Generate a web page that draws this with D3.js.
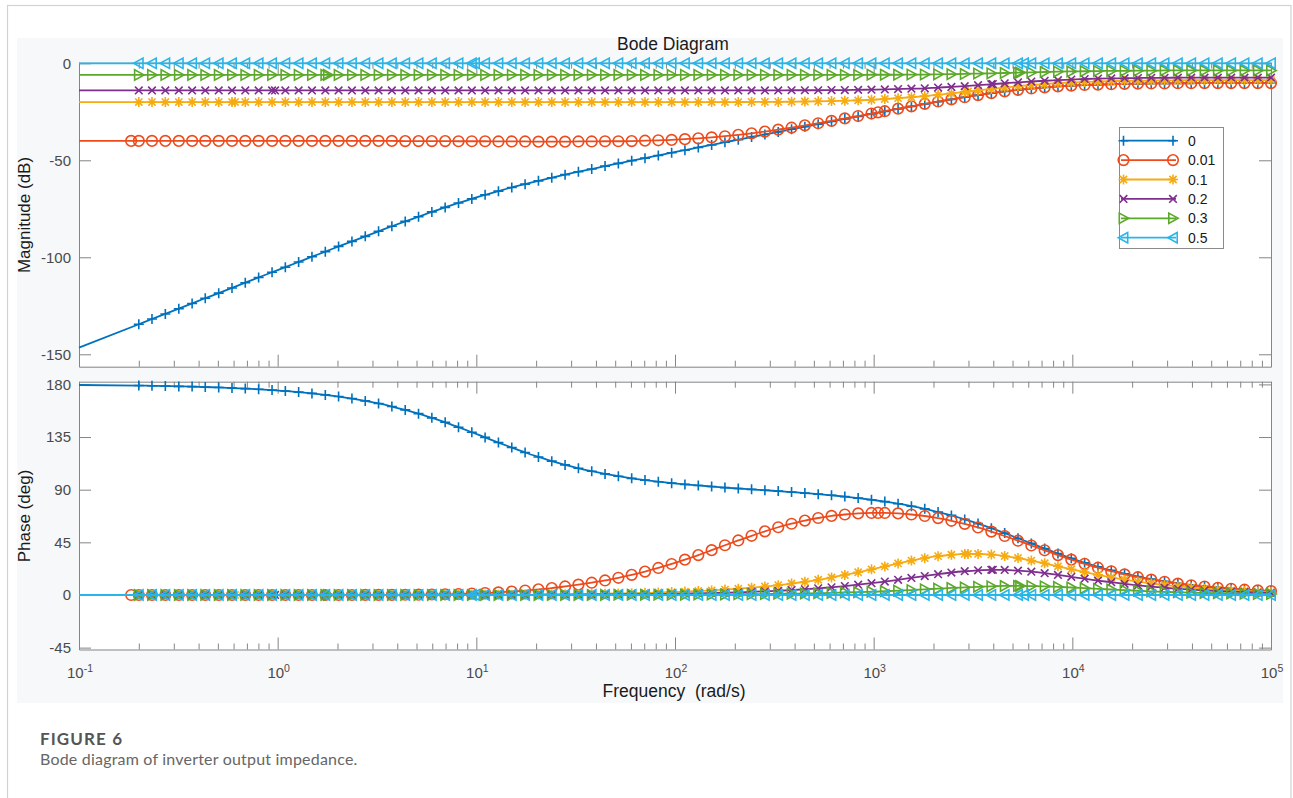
<!DOCTYPE html>
<html>
<head>
<meta charset="utf-8">
<script src="https://cdn.jsdelivr.net/npm/d3@7"></script>
<style>
  body { margin: 0; background: #ffffff; }
  svg { display: block; font-family: "Liberation Sans", Arial, Helvetica, sans-serif; }
</style>
</head>
<body>
<svg id="chart" width="1293" height="798"></svg>
<script>
// Frequency samples (rad/s); the first entry starts the curves, the rest carry markers
const omega = [0.1,
  0.2, 0.233, 0.272, 0.318, 0.371, 0.432, 0.505, 0.589, 0.687, 0.802,
  0.937, 1.093, 1.275, 1.488, 1.737, 2.026, 2.365, 2.760, 3.220, 3.757,
  4.386, 5.117, 5.972, 6.968, 8.133, 9.491, 11.07, 12.92, 15.08, 17.60,
  20.54, 23.97, 27.97, 32.64, 38.09, 44.45, 51.87, 60.53, 70.63, 82.42,
  96.18, 112.2, 131.0, 152.9, 178.4, 208.2, 242.9, 283.5, 330.8, 386.1,
  450.5, 525.7, 613.5, 715.9, 835.4, 975.0, 1138, 1327, 1549, 1808,
  2110, 2462, 2873, 3353, 3912, 4566, 5328, 6218, 7256, 8467,
  9881, 11530, 13460, 15700, 18320, 21380, 24960, 29120, 33980, 39660,
  46280, 54000, 63010, 73540, 85810, 100000];

// Magnitude (dB)
const mag0 = [-146.6,
  -134.5, -131.8, -129.2, -126.5, -123.8, -121.1, -118.5, -115.8, -113.1, -110.4,
  -107.7, -105.1, -102.4, -99.7, -97.1, -94.4, -91.8, -89.2, -86.6, -84.0,
  -81.5, -79.1, -76.6, -74.3, -72.0, -69.9, -67.8, -65.9, -64.0, -62.3,
  -60.6, -59.0, -57.4, -55.9, -54.5, -53.0, -51.6, -50.2, -48.9, -47.5,
  -46.1, -44.8, -43.4, -42.1, -40.7, -39.4, -38.0, -36.7, -35.4, -34.0,
  -32.7, -31.4, -30.0, -28.7, -27.4, -26.1, -24.8, -23.5, -22.2, -21.0,
  -19.8, -18.6, -17.5, -16.4, -15.4, -14.5, -13.7, -13.0, -12.4, -11.9,
  -11.5, -11.2, -11.0, -10.8, -10.6, -10.5, -10.4, -10.4, -10.3, -10.3,
  -10.2, -10.2, -10.2, -10.2, -10.2, -10.2];
const mag001 = [-40.0,
  -40.0, -40.0, -40.0, -40.0, -40.0, -40.0, -40.0, -40.0, -40.0, -40.0,
  -40.0, -40.0, -40.0, -40.0, -40.0, -40.0, -40.0, -40.0, -40.0, -40.0,
  -40.1, -40.1, -40.1, -40.1, -40.2, -40.2, -40.2, -40.3, -40.3, -40.3,
  -40.4, -40.4, -40.4, -40.3, -40.3, -40.2, -40.2, -40.1, -39.9, -39.7,
  -39.5, -39.1, -38.7, -38.2, -37.6, -36.9, -36.1, -35.2, -34.2, -33.2,
  -32.0, -30.9, -29.7, -28.4, -27.2, -25.9, -24.7, -23.4, -22.2, -20.9,
  -19.7, -18.6, -17.5, -16.4, -15.4, -14.5, -13.7, -13.0, -12.4, -11.9,
  -11.5, -11.2, -11.0, -10.8, -10.6, -10.5, -10.4, -10.4, -10.3, -10.3,
  -10.2, -10.2, -10.2, -10.2, -10.2, -10.2];
const mag01 = [-20.0,
  -20.0, -20.0, -20.0, -20.0, -20.0, -20.0, -20.0, -20.0, -20.0, -20.0,
  -20.0, -20.0, -20.0, -20.0, -20.0, -20.0, -20.0, -20.0, -20.0, -20.0,
  -20.0, -20.0, -20.0, -20.0, -20.0, -20.0, -20.0, -20.0, -20.0, -20.0,
  -20.0, -20.0, -20.0, -20.0, -20.0, -20.0, -20.0, -20.0, -20.0, -20.0,
  -20.0, -20.0, -20.0, -20.0, -20.0, -20.0, -19.9, -19.9, -19.9, -19.8,
  -19.7, -19.6, -19.5, -19.3, -19.1, -18.8, -18.4, -18.0, -17.5, -16.9,
  -16.2, -15.5, -14.7, -14.0, -13.2, -12.5, -11.8, -11.2, -10.7, -10.2,
  -9.9, -9.6, -9.4, -9.2, -9.0, -8.9, -8.9, -8.8, -8.8, -8.7,
  -8.7, -8.7, -8.7, -8.7, -8.7, -8.7];
const mag02 = [-14.0,
  -14.0, -14.0, -14.0, -14.0, -14.0, -14.0, -14.0, -14.0, -14.0, -14.0,
  -14.0, -14.0, -14.0, -14.0, -14.0, -14.0, -14.0, -14.0, -14.0, -14.0,
  -14.0, -14.0, -14.0, -14.0, -14.0, -14.0, -14.0, -14.0, -14.0, -14.0,
  -14.0, -14.0, -14.0, -14.0, -14.0, -14.0, -14.0, -14.0, -14.0, -14.0,
  -14.0, -14.0, -14.0, -14.0, -14.0, -14.0, -14.0, -14.0, -14.0, -13.9,
  -13.9, -13.9, -13.8, -13.8, -13.7, -13.6, -13.5, -13.3, -13.1, -12.9,
  -12.5, -12.2, -11.8, -11.3, -10.8, -10.3, -9.8, -9.4, -9.0, -8.7,
  -8.4, -8.1, -7.9, -7.8, -7.7, -7.6, -7.5, -7.5, -7.4, -7.4,
  -7.4, -7.4, -7.4, -7.4, -7.4, -7.4];
const mag03 = [-6.0,
  -6.0, -6.0, -6.0, -6.0, -6.0, -6.0, -6.0, -6.0, -6.0, -6.0,
  -6.0, -6.0, -6.0, -6.0, -6.0, -6.0, -6.0, -6.0, -6.0, -6.0,
  -6.0, -6.0, -6.0, -6.0, -6.0, -6.0, -6.0, -6.0, -6.0, -6.0,
  -6.0, -6.0, -6.0, -6.0, -6.0, -6.0, -6.0, -6.0, -6.0, -6.0,
  -6.0, -6.0, -6.0, -6.0, -6.0, -6.0, -6.0, -6.0, -6.0, -6.0,
  -6.0, -6.0, -6.0, -6.0, -6.0, -5.9, -5.9, -5.9, -5.8, -5.8,
  -5.7, -5.6, -5.5, -5.3, -5.2, -5.0, -4.8, -4.7, -4.5, -4.3,
  -4.2, -4.1, -4.0, -3.9, -3.9, -3.8, -3.8, -3.7, -3.7, -3.7,
  -3.7, -3.7, -3.7, -3.7, -3.7, -3.7];
const mag05 = [0,
  0, 0, 0, 0, 0, 0, 0, 0, 0, 0,
  0, 0, 0, 0, 0, 0, 0, 0, 0, 0,
  0, 0, 0, 0, 0, 0, 0, 0, 0, 0,
  0, 0, 0, 0, 0, 0, 0, 0, 0, 0,
  0, 0, 0, 0, 0, 0, 0, 0, 0, 0,
  0, 0, 0, 0, 0, 0, 0, 0, 0, 0,
  0, 0, 0, 0, 0, 0, 0, 0, 0, 0,
  0, 0, 0, 0, 0, 0, 0, 0, 0, 0,
  0, 0, 0, 0, 0, 0];

// Phase (deg)
const phase0 = [179.5,
  179.0, 178.8, 178.6, 178.3, 178.1, 177.7, 177.4, 176.9, 176.4, 175.8,
  175.1, 174.3, 173.4, 172.3, 171.0, 169.6, 167.9, 165.9, 163.7, 161.1,
  158.2, 155.0, 151.4, 147.6, 143.4, 139.1, 134.7, 130.3, 126.0, 121.8,
  118.0, 114.4, 111.2, 108.3, 105.8, 103.5, 101.5, 99.7, 98.2, 96.8,
  95.6, 94.5, 93.6, 92.7, 91.8, 91.0, 90.3, 89.5, 88.8, 88.0,
  87.1, 86.2, 85.2, 84.1, 82.8, 81.4, 79.8, 78.0, 75.9, 73.6,
  70.9, 68.0, 64.6, 61.0, 57.1, 52.9, 48.5, 44.1, 39.7, 35.4,
  31.3, 27.5, 24.1, 21.0, 18.2, 15.7, 13.6, 11.7, 10.0, 8.6,
  7.4, 6.4, 5.5, 4.7, 4.0, 3.4];
const phase001 = [0,
  0, 0, 0, 0, 0, 0, 0, 0, 0, 0,
  0, 0, 0, 0, 0, 0, 0, 0.1, 0.1, 0.1,
  0.2, 0.3, 0.4, 0.6, 0.8, 1.2, 1.6, 2.2, 2.9, 3.8,
  4.8, 5.9, 7.3, 8.8, 10.5, 12.4, 14.7, 17.2, 20.0, 23.1,
  26.5, 30.2, 34.1, 38.3, 42.5, 46.6, 50.6, 54.4, 57.9, 60.9,
  63.6, 65.8, 67.6, 68.8, 69.7, 70.1, 70.1, 69.7, 68.8, 67.5,
  65.7, 63.4, 60.8, 57.7, 54.2, 50.4, 46.4, 42.3, 38.2, 34.1,
  30.2, 26.6, 23.3, 20.3, 17.6, 15.2, 13.1, 11.3, 9.7, 8.3,
  7.2, 6.1, 5.3, 4.5, 3.9, 3.3];
const phase01 = [0,
  0, 0, 0, 0, 0, 0, 0, 0, 0, 0,
  0, 0, 0, 0, 0, 0, 0, 0, 0, 0,
  0, 0, 0.1, 0.1, 0.1, 0.1, 0.1, 0.2, 0.3, 0.3,
  0.4, 0.5, 0.6, 0.8, 0.9, 1.1, 1.3, 1.5, 1.8, 2.1,
  2.5, 2.9, 3.4, 3.9, 4.6, 5.4, 6.2, 7.3, 8.4, 9.8,
  11.3, 13.0, 15.0, 17.1, 19.4, 21.9, 24.4, 27.0, 29.4, 31.5,
  33.2, 34.4, 35.1, 35.1, 34.5, 33.3, 31.6, 29.4, 27.1, 24.5,
  22.0, 19.5, 17.2, 15.1, 13.1, 11.4, 9.8, 8.5, 7.3, 6.3,
  5.4, 4.6, 4.0, 3.4, 2.9, 2.5];
const phase02 = [0,
  0, 0, 0, 0, 0, 0, 0, 0, 0, 0,
  0, 0, 0, 0, 0, 0, 0, 0, 0, 0,
  0, 0, 0, 0, 0, 0, 0.1, 0.1, 0.1, 0.1,
  0.2, 0.2, 0.3, 0.3, 0.4, 0.5, 0.6, 0.7, 0.8, 0.9,
  1.1, 1.2, 1.4, 1.7, 2.0, 2.3, 2.7, 3.1, 3.6, 4.2,
  4.9, 5.7, 6.6, 7.6, 8.8, 10.1, 11.5, 13.0, 14.6, 16.2,
  17.8, 19.2, 20.3, 21.1, 21.5, 21.4, 20.8, 19.9, 18.6, 17.1,
  15.5, 13.9, 12.3, 10.9, 9.5, 8.3, 7.2, 6.2, 5.3, 4.6,
  3.9, 3.4, 2.9, 2.5, 2.1, 1.8];
const phase03 = [0,
  0, 0, 0, 0, 0, 0, 0, 0, 0, 0,
  0, 0, 0, 0, 0, 0, 0, 0, 0, 0,
  0, 0, 0, 0, 0, 0, 0, 0, 0, 0,
  0, 0, 0, 0, 0, 0.1, 0.2, 0.2, 0.2, 0.2,
  0.3, 0.3, 0.4, 0.5, 0.5, 0.6, 0.7, 0.8, 1.0, 1.1,
  1.3, 1.5, 1.8, 2.1, 2.4, 2.8, 3.2, 3.7, 4.2, 4.8,
  5.4, 6.0, 6.5, 7.0, 7.4, 7.7, 7.7, 7.6, 7.4, 6.9,
  6.4, 5.8, 5.2, 4.7, 4.1, 3.6, 3.1, 2.7, 2.3, 2.0,
  1.7, 1.5, 1.3, 1.1, 0.9, 0.8];
const phase05 = [0,
  0, 0, 0, 0, 0, 0, 0, 0, 0, 0,
  0, 0, 0, 0, 0, 0, 0, 0, 0, 0,
  0, 0, 0, 0, 0, 0, 0, 0, 0, 0,
  0, 0, 0, 0, 0, 0, 0, 0, 0, 0,
  0, 0, 0, 0, 0, 0, 0, 0, 0, 0,
  0, 0, 0, 0, 0, 0, 0, 0, 0, 0,
  0, 0, 0, 0, 0, 0, 0, 0, 0, 0,
  0, 0, 0, 0, 0, 0, 0, 0, 0, 0,
  0, 0, 0, 0, 0, 0];

// Additional solver points [rad/s, dB, deg] that carry their own markers
const extra0 = [];
const extra001 = [[0.183, -40.0, 0.0], [1052, -25.3, 70.1]];
const extra01 = [[0.61, -20.0, 0.0], [2985, -14.5, 35.1]];
const extra02 = [[0.97, -14.0, 0.0], [3980, -10.7, 21.5]];
const extra03 = [[1.79, -6.0, 0.0], [5460, -4.8, 7.7]];
const extra05 = [[9.85, 0, 0], [5710, 0, 0]];

const seriesLabels = ["0", "0.01", "0.1", "0.2", "0.3", "0.5"];
const seriesColors = ["#0072bd", "#ee4b1d", "#f6ab12", "#7e2f8e", "#5ca82a", "#27b5ea"];
const seriesMarkers = ["plus", "circle", "star", "cross", "triRight", "triLeft"];

const magTicks = [-150, -100, -50, 0];
const phaseTicks = [-45, 0, 45, 90, 135, 180];
const decadeExponents = [-1, 0, 1, 2, 3, 4, 5];

const series = seriesLabels.map((label, i) => ({
  label,
  color: seriesColors[i],
  marker: seriesMarkers[i],
  mag: [mag0, mag001, mag01, mag02, mag03, mag05][i],
  phase: [phase0, phase001, phase01, phase02, phase03, phase05][i],
  extra: [extra0, extra001, extra01, extra02, extra03, extra05][i]
}));

const svg = d3.select("#chart");
const axisColor = "#858585";
const tickTextColor = "#4a4a4a";
const tickFont = "'Liberation Sans', Arial, sans-serif";

// page frame and figure background
svg.append("rect").attr("x", 7.5).attr("y", 5.5).attr("width", 1283.5).attr("height", 800)
  .attr("fill", "#ffffff").attr("stroke", "#d2d2d2").attr("stroke-width", 1.2);
svg.append("rect").attr("x", 17).attr("y", 38).attr("width", 1266).attr("height", 665)
  .attr("fill", "#f7f8fa");

const x = d3.scaleLog().domain([0.1, 1e5]).range([79, 1271]);
const yMag = d3.scaleLinear().domain([-156.4, 0.3]).range([366.7, 62.7]);
const yPh = d3.scaleLinear().domain([-46.6, 182.3]).range([649.5, 381.7]);

const majorX = decadeExponents.map(e => Math.pow(10, e));
const minorX = [];
decadeExponents.slice(0, -1).forEach(e => {
  for (let m = 2; m <= 9; m++) minorX.push(m * Math.pow(10, e));
});

function styleAxis(g) {
  g.attr("font-family", tickFont).attr("font-size", 15);
  g.selectAll("path, line").attr("stroke", axisColor).attr("stroke-width", 1);
  g.selectAll("text").attr("fill", tickTextColor);
}

function drawPanel(y, yTicks, withXLabels) {
  const [y0, y1] = y.range(); // bottom, top
  const g = svg.append("g");
  g.append("rect").attr("x", 79).attr("y", y1).attr("width", 1271 - 79).attr("height", y0 - y1)
    .attr("fill", "#ffffff");

  // x: bottom and top, major and minor ticks pointing inward
  [[d3.axisBottom, y0], [d3.axisTop, y1]].forEach(([mk, pos]) => {
    g.append("g").attr("transform", `translate(0,${pos})`)
      .call(mk(x).tickValues(majorX).tickSize(-12).tickSizeOuter(0).tickFormat(""))
      .call(styleAxis);
    g.append("g").attr("transform", `translate(0,${pos})`)
      .call(mk(x).tickValues(minorX).tickSize(-6).tickSizeOuter(0).tickFormat(""))
      .call(s => s.select(".domain").remove())
      .call(styleAxis);
  });
  // y: left with labels, right mirrored
  g.append("g").attr("transform", "translate(79,0)")
    .call(d3.axisLeft(y).tickValues(yTicks).tickSize(-12).tickSizeOuter(0).tickPadding(8)
      .tickFormat(d => String(d)))
    .call(styleAxis);
  g.append("g").attr("transform", "translate(1271,0)")
    .call(d3.axisRight(y).tickValues(yTicks).tickSize(-12).tickSizeOuter(0).tickFormat(""))
    .call(styleAxis);

  if (withXLabels) {
    const lab = g.append("g").attr("font-family", tickFont);
    decadeExponents.forEach(e => {
      const t = lab.append("text").attr("x", x(Math.pow(10, e)) + 1).attr("y", 678)
        .attr("text-anchor", "middle").attr("fill", tickTextColor).attr("font-size", 15);
      t.append("tspan").text("10");
      t.append("tspan").attr("dy", -6.5).attr("font-size", 10.5).text(String(e));
    });
  }
  return g;
}

function markerPath(type) {
  switch (type) {
    case "plus": return "M-5,0H5M0,-5V5";
    case "star": return "M-5,0H5M0,-5V5M-3.6,-3.6L3.6,3.6M-3.6,3.6L3.6,-3.6";
    case "cross": return "M-3.8,-3.8L3.8,3.8M-3.8,3.8L3.8,-3.8";
    case "triRight": return "M-4.2,-5.2L5.2,0L-4.2,5.2Z";
    case "triLeft": return "M4.2,-5.2L-5.2,0L4.2,5.2Z";
    default: return null;
  }
}

function drawMarker(g, type, color, cx, cy) {
  if (type === "circle") {
    g.append("circle").attr("cx", cx).attr("cy", cy).attr("r", 5.3)
      .attr("fill", "none").attr("stroke", color).attr("stroke-width", 1.6);
  } else {
    g.append("path").attr("d", markerPath(type)).attr("transform", `translate(${cx},${cy})`)
      .attr("fill", "none").attr("stroke", color).attr("stroke-width", 1.6)
      .attr("stroke-linejoin", "miter");
  }
}

function drawCurves(y, key, extraIndex) {
  const g = svg.append("g");
  series.forEach(s => {
    const pts = omega.map((w, i) => ({ w, v: s[key][i] }));
    const line = d3.line().x(d => x(d.w)).y(d => y(d.v)).curve(d3.curveMonotoneX);
    const sg = g.append("g");
    sg.append("path").datum(pts).attr("d", line)
      .attr("fill", "none").attr("stroke", s.color).attr("stroke-width", 1.8);
    pts.slice(1).forEach(d => drawMarker(sg, s.marker, s.color, x(d.w), y(d.v)));
    s.extra.forEach(d => drawMarker(sg, s.marker, s.color, x(d[0]), y(d[extraIndex])));
  });
}

drawPanel(yMag, magTicks, false);
drawCurves(yMag, "mag", 1);
drawPanel(yPh, phaseTicks, true);
drawCurves(yPh, "phase", 2);

// titles
svg.append("text").attr("x", 673).attr("y", 50).attr("text-anchor", "middle")
  .attr("font-size", 17.5).attr("fill", "#1a1a1a").text("Bode Diagram");
svg.append("text").attr("transform", "translate(29.5,215) rotate(-90)").attr("text-anchor", "middle")
  .attr("font-size", 17).attr("fill", "#1a1a1a").text("Magnitude (dB)");
svg.append("text").attr("transform", "translate(29.5,516) rotate(-90)").attr("text-anchor", "middle")
  .attr("font-size", 17).attr("fill", "#1a1a1a").text("Phase (deg)");
svg.append("text").attr("x", 674).attr("y", 697).attr("text-anchor", "middle")
  .attr("font-size", 17.5).attr("fill", "#1a1a1a").style("white-space", "pre")
  .text("Frequency  (rad/s)");

// legend
const legend = svg.append("g");
legend.append("rect").attr("x", 1119.5).attr("y", 127.5).attr("width", 104).attr("height", 121)
  .attr("fill", "#ffffff").attr("stroke", "#8a8a8a").attr("stroke-width", 1);
series.forEach((s, i) => {
  const ly = 140.7 + i * 19.4;
  legend.append("line").attr("x1", 1121).attr("x2", 1176).attr("y1", ly).attr("y2", ly)
    .attr("stroke", s.color).attr("stroke-width", 1.8);
  drawMarker(legend, s.marker, s.color, 1123.5, ly);
  drawMarker(legend, s.marker, s.color, 1173, ly);
  legend.append("text").attr("x", 1188).attr("y", ly + 5).attr("font-size", 14)
    .attr("fill", "#1a1a1a").text(s.label);
});

// caption
svg.append("text").attr("x", 40).attr("y", 745).attr("font-family", "Lato, sans-serif")
  .attr("font-weight", 700).attr("font-size", 17).attr("letter-spacing", 1.1)
  .attr("fill", "#555555").text("FIGURE 6");
svg.append("text").attr("x", 40).attr("y", 765).attr("font-family", "Lato, sans-serif")
  .attr("font-size", 16).attr("letter-spacing", 0.2)
  .attr("fill", "#666666").text("Bode diagram of inverter output impedance.");
</script>
</body>
</html>
